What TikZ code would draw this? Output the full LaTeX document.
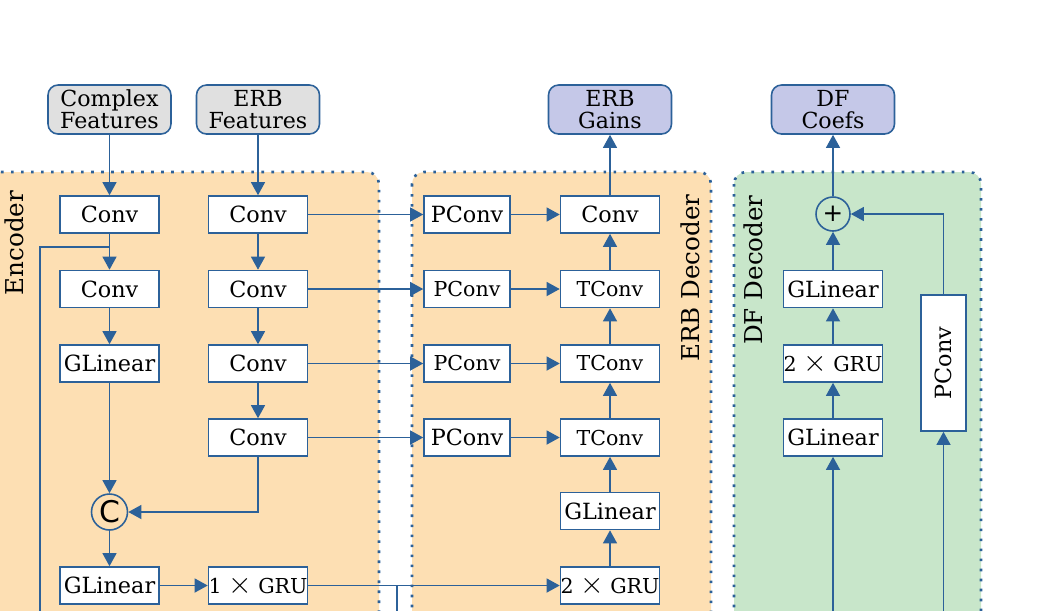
\documentclass[tikz,border=0pt]{standalone}
\usepackage{fontspec}
\setmainfont{DejaVu Serif}
\newfontfamily\kreisfont{DejaVu Sans}
\usepackage{tikz}
\usetikzlibrary{arrows.meta,shapes}
\definecolor{linie}{RGB}{44,97,153}
\definecolor{pfirsich}{RGB}{253,223,179}
\definecolor{gruen}{RGB}{200,230,202}
\definecolor{grau}{RGB}{224,224,224}
\definecolor{lila}{RGB}{197,200,232}
\newcommand{\mal}{{\fontsize{18}{12}\selectfont$\times$}}

\begin{document}
\begin{tikzpicture}[x=0.02cm, y=-0.02cm,
				>={Triangle[length=7.5pt,width=8pt]},   %Pfeilspitzen
				color=linie, line width=0.9pt,
				every node/.style={text=black},
				blk/.style={draw=linie, fill=white, minimum width=1.98cm, minimum height=0.74cm, inner sep=0pt, font=\fontsize{12.7}{12.7}\selectfont},
				klein/.style={font=\fontsize{11.7}{11.7}\selectfont},
				io/.style={draw=linie, rounded corners=0.2cm, minimum width=2.46cm, minimum height=0.98cm, inner sep=0pt, align=center, font=\fontsize{12.6}{12.6}\selectfont},
				kreis/.style={draw=linie, circle, minimum size=#1, inner sep=0pt},
				bereich/.style={draw=linie, line width=1.5pt, dash pattern=on 1.5pt off 4.2pt, rounded corners=0.24cm},
				titel/.style={rotate=90, font=\fontsize{14}{14}\selectfont}]
				\useasboundingbox (0,0) rectangle (1050,610);
				\clip (0,0) rectangle (1050,610);
				% Bereiche
				\draw[bereich, fill=pfirsich] (-20,172) rectangle (379,680);
				\draw[bereich, fill=pfirsich] (412,172) rectangle (711,680);
				\draw[bereich, fill=gruen] (734,172) rectangle (981,680);
				\node[titel] (tenc) at (14,243) {Encoder};
				\node[titel] (terb) at (690,278) {ERB Decoder};
				\node[titel] (tdf) at (753,270) {DF Decoder};
				% Ein- und Ausgaenge
				\node[io, fill=grau] (cf) at (109.5,109.5) {Complex\\Features};
				\node[io, fill=grau] (ef) at (258,109.5) {ERB\\Features};
				\node[io, fill=lila] (gains) at (610,109.5) {ERB\\Gains};
				\node[io, fill=lila] (coefs) at (833,109.5) {DF\\Coefs};
				% Encoder
				\node[blk] (e1) at (109.5,214.5) {Conv};
				\node[blk] (e2) at (109.5,289) {Conv};
				\node[blk] (e3) at (109.5,363.5) {GLinear};
				\node[kreis=0.72cm, fill=pfirsich, font=\kreisfont\fontsize{17}{17}\selectfont] (cat) at (109.5,512) {C};
				\node[blk] (e4) at (109.5,585.5) {GLinear};
				\foreach \i/\y in {1/214.5,2/289,3/363.5,4/437.5}
					\node[blk] (r\i) at (258,\y) {Conv};
				\node[blk, klein] (gru1) at (258,585.5) {1 \mal{} GRU};
				% ERB Decoder
				\node[blk, minimum width=1.72cm] (p1) at (467,214.5) {PConv};
				\node[blk, klein, minimum width=1.72cm] (p2) at (467,289) {PConv};
				\node[blk, klein, minimum width=1.72cm] (p3) at (467,363.5) {PConv};
				\node[blk, minimum width=1.72cm] (p4) at (467,437.5) {PConv};
				\node[blk] (d1) at (610,214.5) {Conv};
				\node[blk, klein] (d2) at (610,289) {TConv};
				\node[blk, klein] (d3) at (610,363.5) {TConv};
				\node[blk, klein] (d4) at (610,437.5) {TConv};
				\node[blk] (gl2) at (610,511) {GLinear};
				\node[blk, klein] (gru2) at (610,585.5) {2 \mal{} GRU};
				% DF Decoder
				\node[kreis=0.68cm, font=\kreisfont\fontsize{14}{14}\selectfont] (plus) at (833,214) {+};
				\node[blk] (dgl1) at (833,289) {GLinear};
				\node[blk, klein] (dgru) at (833,363.5) {2 \mal{} GRU};
				\node[blk] (dgl2) at (833,437.5) {GLinear};
				\node[blk, rotate=90, minimum width=2.72cm, minimum height=0.9cm] (pc) at (943.5,363) {PConv};
				% freie Enden
				\coordinate (abzw) at (109.5,247);
				\coordinate (links) at (40,247);
				\coordinate (aus1) at (40,640);
				\coordinate (knick) at (397,585.5);
				\coordinate (aus2) at (397,640);
				\coordinate (ein1) at (833,640);
				\coordinate (ein2) at (943.5,640);
				% Verbindungen
				\draw[->] (cf) -- (e1);
				\draw[->] (ef) -- (r1);
				\draw[->] (e1) -- (e2);
				\draw[->] (e2) -- (e3);
				\draw[->] (e3) -- (cat);
				\draw[->] (cat) -- (e4);
				\draw (abzw) -- (links) -- (aus1);
				\draw[->] (r1) -- (r2);
				\draw[->] (r2) -- (r3);
				\draw[->] (r3) -- (r4);
				\draw[->] (r4) |- (cat);
				\draw[->] (e4) -- (gru1);
				\draw[->] (gru1) -- (gru2);
				\draw (knick) -- (aus2);
				\foreach \i in {1,...,4} {
					\draw[->] (r\i) -- (p\i);
					\draw[->] (p\i) -- (d\i);
				}
				\draw[->] (gru2) -- (gl2);
				\draw[->] (gl2) -- (d4);
				\draw[->] (d4) -- (d3);
				\draw[->] (d3) -- (d2);
				\draw[->] (d2) -- (d1);
				\draw[->] (d1) -- (gains);
				\draw[->] (ein1) -- (dgl2);
				\draw[->] (dgl2) -- (dgru);
				\draw[->] (dgru) -- (dgl1);
				\draw[->] (dgl1) -- (plus);
				\draw[->] (plus) -- (coefs);
				\draw[->] (ein2) -- (pc);
				\draw[->] (pc) |- (plus);
			\end{tikzpicture}
\end{document}
